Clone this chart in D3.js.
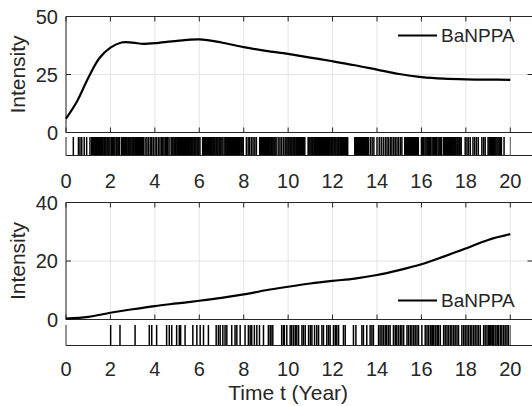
<!DOCTYPE html>
<html>
<head>
<meta charset="utf-8">
<script src="https://cdn.jsdelivr.net/npm/d3@7"></script>
<style>
  body { margin: 0; background: #fff; }
  text { font-family: "Liberation Sans", Arial, sans-serif; fill: #262626; }
</style>
</head>
<body>
<script>
// ---------------- data ----------------

let xTicks = [0, 2, 4, 6, 8, 10, 12, 14, 16, 18, 20]
let tEnd = 20

let topTimes = [0, 0.5, 1, 1.5, 2, 2.5, 3, 3.5, 4, 5, 6, 7, 8, 9, 10, 11, 12, 13, 14, 15, 16, 17, 18, 19, 20]
let topIntensity = [6, 13.5, 23.5, 32, 36.6, 38.8, 38.7, 38.2, 38.5, 39.5, 40.1, 38.8, 36.8, 35.2, 33.9, 32.3, 30.7, 29, 27.1, 25.2, 23.9, 23.2, 22.9, 22.8, 22.7]
let topYTicks = [0, 25, 50]

let botTimes = [0, 1, 2, 3, 4, 5, 6, 7, 8, 9, 10, 11, 12, 13, 14, 15, 16, 17, 18, 19, 20]
let botIntensity = [0.3, 0.9, 2.3, 3.5, 4.6, 5.5, 6.4, 7.4, 8.6, 10, 11.2, 12.3, 13.2, 14, 15.2, 16.9, 18.9, 21.5, 24.3, 27.2, 29.2]
let botYTicks = [0, 20, 40]

let topEvents = [
  0.33, 0.56, 0.63, 0.71, 0.82, 0.93, 1.08,
  1.16, 1.2, 1.24, 1.29, 1.33, 1.37, 1.41, 1.46, 1.5, 1.55, 1.59, 1.63, 1.67, 1.72, 1.76, 1.8, 1.85, 1.89, 1.93, 1.98,
  2.04, 2.09, 2.15, 2.2, 2.26, 2.3, 2.35, 2.41,
  2.5, 2.54, 2.58, 2.62, 2.67, 2.71, 2.75, 2.8, 2.84, 2.88, 2.92, 2.97, 3.01, 3.05, 3.1, 3.14, 3.18, 3.23, 3.27, 3.31, 3.36, 3.4, 3.44, 3.48,
  3.56, 3.64, 3.71, 3.79, 3.86, 3.93, 4.01, 4.08, 4.16, 4.23,
  4.3, 4.35, 4.41, 4.47, 4.52, 4.58, 4.64,
  4.73, 4.77, 4.81, 4.86, 4.9, 4.94, 4.99, 5.03, 5.07, 5.12, 5.16, 5.2, 5.25, 5.29, 5.33, 5.38, 5.42, 5.46, 5.51, 5.55, 5.59, 5.64, 5.68, 5.72, 5.77, 5.81, 5.85, 5.9, 5.94, 5.98, 6.03,
  6.15, 6.19, 6.24, 6.28, 6.32, 6.37, 6.41, 6.45, 6.5, 6.54, 6.58, 6.63, 6.67, 6.71, 6.76, 6.8, 6.84, 6.89, 6.93, 6.97, 7.02, 7.07,
  7.15, 7.19, 7.24, 7.28, 7.32, 7.37, 7.41, 7.45, 7.5, 7.54, 7.58, 7.63, 7.67, 7.71, 7.76, 7.8, 7.84, 7.89, 7.93, 7.98,
  8.12, 8.2, 8.27, 8.35, 8.42, 8.5, 8.57,
  8.72, 8.76, 8.8, 8.85, 8.89, 8.93, 8.98, 9.02, 9.06, 9.11, 9.15, 9.19, 9.24, 9.28, 9.32, 9.37, 9.41, 9.46,
  9.55, 9.63, 9.7, 9.78, 9.86, 9.9, 9.95, 10.0, 10.04, 10.09,
  10.13, 10.17, 10.22, 10.26, 10.3, 10.35, 10.39, 10.43, 10.48, 10.52, 10.56, 10.61, 10.65, 10.7, 10.75,
  10.9, 10.94, 10.98, 11.03, 11.07, 11.11, 11.16, 11.2, 11.24, 11.29, 11.33, 11.37, 11.42, 11.46, 11.5, 11.55, 11.59, 11.63, 11.68, 11.72,
  11.76, 11.81, 11.85, 11.89, 11.94, 11.98, 12.02, 12.07, 12.11, 12.15, 12.2, 12.24, 12.28, 12.33, 12.37, 12.41, 12.46, 12.5, 12.54, 12.59, 12.63, 12.68,
  13.0, 13.04, 13.09, 13.13, 13.17, 13.22, 13.26, 13.3, 13.35, 13.39, 13.43, 13.48, 13.52, 13.56, 13.61,
  13.7, 13.78, 13.86, 14.0, 14.1, 14.19, 14.28, 14.37,
  14.45, 14.52, 14.6, 14.67, 14.75, 14.82, 14.9, 14.97, 15.05, 15.12,
  15.25, 15.29, 15.34, 15.38, 15.42, 15.47, 15.51, 15.55, 15.6, 15.64, 15.68, 15.73, 15.77, 15.82, 15.86,
  16.0, 16.05, 16.1, 16.16, 16.21, 16.26, 16.32, 16.37, 16.42, 16.48, 16.53, 16.58, 16.64, 16.69, 16.75, 16.8, 16.86, 16.91,
  17.0, 17.04, 17.09, 17.13, 17.17, 17.22, 17.26, 17.3, 17.35, 17.39, 17.43, 17.48, 17.52, 17.56, 17.61, 17.65, 17.7, 17.74, 17.79,
  17.97, 18.05, 18.12, 18.2, 18.32, 18.4, 18.48, 18.56, 18.72, 18.8, 18.87,
  19.0, 19.05, 19.1, 19.15, 19.2, 19.25, 19.3, 19.35, 19.4, 19.45, 19.5, 19.55, 19.6, 19.72
]

let botEvents = [
  2.01, 2.43, 3.11, 3.75, 3.86, 4.08, 4.53, 4.65, 4.76, 4.98, 5.1, 5.16, 5.36,
  5.71, 5.89, 6.04, 6.19, 6.41, 6.76, 6.86, 6.94, 7.06, 7.16, 7.24,
  7.46, 7.61, 7.69, 7.84, 8.06, 8.21, 8.29, 8.36, 8.48, 8.59, 8.71, 8.89,
  9.11, 9.19, 9.23, 9.31, 9.71, 9.79, 9.83,
  9.94, 10.09, 10.16, 10.24, 10.32, 10.39, 10.47, 10.62, 10.69, 10.77,
  10.92, 11.0, 11.07, 11.19, 11.29, 11.37, 11.52, 11.59, 11.74, 11.82, 11.89,
  12.04, 12.12, 12.19, 12.27, 12.49, 12.57, 12.94, 13.05,
  13.32, 13.39, 13.54, 13.69, 13.77, 13.84,
  14.07, 14.14, 14.22, 14.29, 14.37, 14.44, 14.52, 14.59,
  14.74, 14.82, 14.89, 14.97, 15.05, 15.12, 15.2,
  15.35, 15.42, 15.5, 15.57, 15.65, 15.72, 15.8, 15.87,
  16.02, 16.17, 16.25, 16.32, 16.4, 16.47, 16.51, 16.55, 16.62, 16.7, 16.74, 16.77, 16.85,
  17.0, 17.07, 17.15, 17.22, 17.3, 17.37, 17.45, 17.52, 17.6, 17.67,
  17.82, 17.9, 17.97, 18.05, 18.12, 18.2, 18.27, 18.35, 18.42, 18.5, 18.57, 18.65,
  18.8, 18.87, 18.95, 19.02, 19.06, 19.1, 19.17, 19.21, 19.25, 19.32, 19.4, 19.44, 19.47, 19.55, 19.62, 19.7, 19.77, 19.85, 19.92
]

let seriesName = "BaNPPA"

// ---------------- drawing ----------------

let w = 532
let h = 406
let axisColor = "#262626"
let gridColor = "#e5e5e5"
let tickLen = 5

let svg = d3.select("body")
  .append("svg")
  .attr("width", w)
  .attr("height", h)

let x = d3.scaleLinear().domain([0, 21]).range([66, 532.5])
let xRight = x.range()[1]

function drawPanel(p) {
  let y = d3.scaleLinear().domain([p.yTicks[0], p.yTicks[p.yTicks.length - 1]]).range([p.bottom, p.top])
  let g = svg.append("g")

  // grid
  g.selectAll(".gx").data(xTicks).enter().append("line")
    .attr("x1", d => x(d)).attr("x2", d => x(d))
    .attr("y1", p.top).attr("y2", p.bottom)
    .attr("stroke", gridColor)
  g.selectAll(".gy").data(p.yTicks).enter().append("line")
    .attr("x1", x(0)).attr("x2", xRight)
    .attr("y1", d => y(d)).attr("y2", d => y(d))
    .attr("stroke", gridColor)

  // box lines
  let box = [[x(0), p.top, xRight, p.top], [x(0), p.bottom, xRight, p.bottom],
             [x(0), p.top, x(0), p.bottom], [xRight, p.top, xRight, p.bottom]]
  g.selectAll(".box").data(box).enter().append("line")
    .attr("x1", d => d[0]).attr("y1", d => d[1]).attr("x2", d => d[2]).attr("y2", d => d[3])
    .attr("stroke", axisColor)

  // inward ticks
  g.selectAll(".tb").data(xTicks).enter().append("line")
    .attr("x1", d => x(d)).attr("x2", d => x(d))
    .attr("y1", p.bottom).attr("y2", p.bottom - tickLen)
    .attr("stroke", axisColor)
  g.selectAll(".tt").data(xTicks).enter().append("line")
    .attr("x1", d => x(d)).attr("x2", d => x(d))
    .attr("y1", p.top).attr("y2", p.top + tickLen)
    .attr("stroke", axisColor)
  g.selectAll(".tl").data(p.yTicks).enter().append("line")
    .attr("x1", x(0)).attr("x2", x(0) + tickLen)
    .attr("y1", d => y(d)).attr("y2", d => y(d))
    .attr("stroke", axisColor)
  g.selectAll(".tr").data(p.yTicks).enter().append("line")
    .attr("x1", xRight).attr("x2", xRight - tickLen)
    .attr("y1", d => y(d)).attr("y2", d => y(d))
    .attr("stroke", axisColor)

  // y tick labels
  g.selectAll(".yl").data(p.yTicks).enter().append("text")
    .text(d => d)
    .attr("x", 58)
    .attr("y", d => y(d))
    .attr("dy", "0.35em")
    .attr("text-anchor", "end")
    .attr("font-size", "20px")

  g.append("text")
    .text("Intensity")
    .attr("transform", `translate(25,${(p.top + p.bottom) / 2}) rotate(-90)`)
    .attr("text-anchor", "middle")
    .attr("font-size", "21px")

  // curve
  let line = d3.line()
    .x(d => x(d[0]))
    .y(d => y(d[1]))
    .curve(d3.curveCatmullRom)
  g.append("path")
    .datum(d3.zip(p.times, p.values))
    .attr("d", line)
    .attr("fill", "none")
    .attr("stroke", "#000")
    .attr("stroke-width", 2.2)

  // legend
  g.append("line")
    .attr("x1", 398).attr("x2", 437)
    .attr("y1", p.legendY).attr("y2", p.legendY)
    .attr("stroke", "#000").attr("stroke-width", 2.2)
  g.append("text")
    .text(seriesName)
    .attr("x", 441)
    .attr("y", p.legendY)
    .attr("dy", "0.35em")
    .attr("font-size", "19px")

  // rug strip
  g.selectAll(".ev").data(p.events).enter().append("line")
    .attr("x1", d => x(d)).attr("x2", d => x(d))
    .attr("y1", p.rugTop).attr("y2", p.rugBottom)
    .attr("stroke", "#000")
    .attr("stroke-width", 1.5)
  g.append("line")
    .attr("x1", x(tEnd)).attr("x2", x(tEnd))
    .attr("y1", p.rugTop).attr("y2", p.rugBottom)
    .attr("stroke", "#555")
  g.append("line")
    .attr("x1", x(0)).attr("x2", x(0))
    .attr("y1", p.rugTop).attr("y2", p.rugBottom)
    .attr("stroke", axisColor)
  g.append("line")
    .attr("x1", x(0)).attr("x2", xRight)
    .attr("y1", p.rugBottom).attr("y2", p.rugBottom)
    .attr("stroke", axisColor)

  // x tick labels under the rug
  g.selectAll(".xl").data(xTicks).enter().append("text")
    .text(d => d)
    .attr("x", d => x(d))
    .attr("y", p.xLabelY)
    .attr("text-anchor", "middle")
    .attr("font-size", "20px")
}

drawPanel({
  top: 16.5, bottom: 132.5, rugTop: 137, rugBottom: 155.5,
  yTicks: topYTicks, times: topTimes, values: topIntensity,
  events: topEvents, legendY: 35.5, xLabelY: 187.5
})

drawPanel({
  top: 202.5, bottom: 319.5, rugTop: 325, rugBottom: 345.5,
  yTicks: botYTicks, times: botTimes, values: botIntensity,
  events: botEvents, legendY: 300.5, xLabelY: 375.5
})

svg.append("text")
  .text("Time t (Year)")
  .attr("x", x(10))
  .attr("y", 400)
  .attr("text-anchor", "middle")
  .attr("font-size", "21px")
</script>
</body>
</html>
